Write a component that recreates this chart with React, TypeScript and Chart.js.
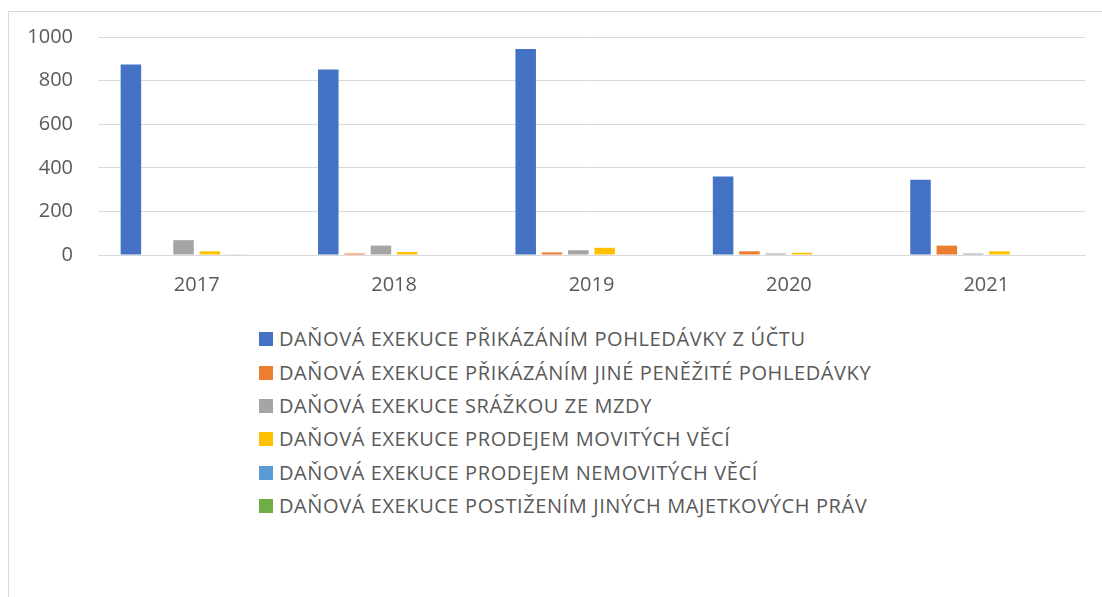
import React, { useEffect, useRef } from "react";
import { Chart, registerables } from "chart.js";

Chart.register(...registerables);

const categories = ["2017", "2018", "2019", "2020", "2021"];

const seriesNames = [
  "DAŇOVÁ EXEKUCE PŘIKÁZÁNÍM POHLEDÁVKY Z ÚČTU",
  "DAŇOVÁ EXEKUCE PŘIKÁZÁNÍM JINÉ PENĚŽITÉ POHLEDÁVKY",
  "DAŇOVÁ EXEKUCE SRÁŽKOU ZE MZDY",
  "DAŇOVÁ EXEKUCE PRODEJEM MOVITÝCH VĚCÍ",
  "DAŇOVÁ EXEKUCE PRODEJEM NEMOVITÝCH VĚCÍ",
  "DAŇOVÁ EXEKUCE POSTIŽENÍM JINÝCH MAJETKOVÝCH PRÁV",
];

const seriesColors = ["#4472C4", "#ED7D31", "#A5A5A5", "#FFC000", "#5B9BD5", "#70AD47"];

const prikazUctu = [874, 851, 945, 360, 345];
const prikazJine = [0, 7, 12, 17, 43];
const srazkouZeMzdy = [68, 43, 22, 7, 7];
const movitychVeci = [17, 14, 33, 10, 17];
const nemovitychVeci = [3, 0, 0, 2, 0];
const jinychPrav = [0, 0, 0, 0, 0];

const seriesValues = [prikazUctu, prikazJine, srazkouZeMzdy, movitychVeci, nemovitychVeci, jinychPrav];

const yMin = 0;
const yMax = 1000;
const yStep = 200;

const FONT = "'Open Sans', 'Noto Sans', sans-serif";
const TEXT = "#595959";
const GRID = "#D9D9D9";

export default function App() {
  const canvasRef = useRef<HTMLCanvasElement | null>(null);

  useEffect(() => {
    if (!canvasRef.current) return;
    const chart = new Chart(canvasRef.current, {
      type: "bar",
      data: {
        labels: categories,
        datasets: seriesNames.map((name, i) => ({
          label: name,
          data: seriesValues[i],
          backgroundColor: seriesColors[i],
          borderWidth: 0,
          categoryPercentage: 0.8,
          barPercentage: 0.78,
        })),
      },
      options: {
        animation: false,
        responsive: false,
        devicePixelRatio: 1,
        layout: { padding: { top: 35, right: 17, left: 0, bottom: 0 } },
        plugins: {
          legend: { display: false },
          tooltip: { enabled: false },
        },
        scales: {
          x: {
            grid: { display: false, drawTicks: false },
            border: { display: true, color: GRID, width: 1 },
            ticks: { color: TEXT, font: { family: FONT, size: 20 }, padding: 18 },
            afterFit: (s: any) => {
              s.height = 65;
            },
          },
          y: {
            min: yMin,
            max: yMax,
            grid: { color: GRID, lineWidth: 1, drawTicks: false },
            border: { display: false },
            ticks: {
              stepSize: yStep,
              color: TEXT,
              font: { family: FONT, size: 20 },
              padding: 25,
              callback: (v: any) => String(v),
            },
            afterFit: (s: any) => {
              s.width = 98;
            },
          },
        },
      },
    });
    return () => chart.destroy();
  }, []);

  return (
    <div style={{ position: "fixed", left: 0, top: 0, width: 1102, height: 597, overflow: "hidden", background: "#fff" }}>
      <div
        style={{
          position: "absolute",
          left: 8,
          top: 11,
          width: 1200,
          height: 700,
          border: `1px solid ${GRID}`,
          boxSizing: "border-box",
        }}
      />
      <canvas
        ref={canvasRef}
        width={1102}
        height={320}
        style={{ position: "absolute", left: 0, top: 0, width: 1102, height: 320 }}
      />
      {seriesNames.map((name, i) => (
        <div
          key={name}
          style={{
            position: "absolute",
            left: 259,
            top: 339.5 + 33.3 * i - 16.65,
            height: 33.3,
            display: "flex",
            alignItems: "center",
            whiteSpace: "nowrap",
          }}
        >
          <span style={{ display: "inline-block", width: 14, height: 14, background: seriesColors[i], marginRight: 6 }} />
          <span style={{ fontFamily: FONT, fontSize: 20, letterSpacing: 0.6, lineHeight: 1, color: TEXT }}>{name}</span>
        </div>
      ))}
    </div>
  );
}
